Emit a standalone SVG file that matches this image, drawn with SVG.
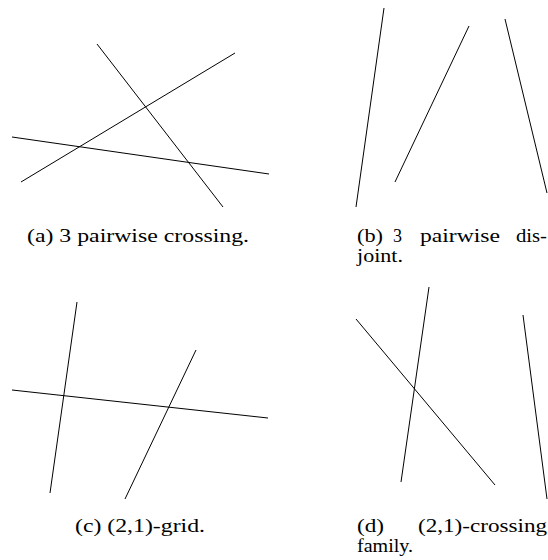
<svg xmlns="http://www.w3.org/2000/svg" width="548" height="560" viewBox="0 0 548 560">
<style>
line{stroke:#000;stroke-width:1;fill:none}
</style>
<rect width="548" height="560" fill="#fff"/>
<g font-family="Liberation Serif, Times New Roman, serif" font-size="18" fill="#000">
<g id="panel-a">
<line x1="97" y1="44" x2="223" y2="207"/>
<line x1="21" y1="182" x2="235" y2="53"/>
<line x1="12" y1="137" x2="269" y2="174"/>
<text x="27" y="242" textLength="222" lengthAdjust="spacingAndGlyphs">(a) 3 pairwise crossing.</text>
</g>
<g id="panel-b">
<line x1="384" y1="8" x2="356" y2="207"/>
<line x1="469" y1="26" x2="395" y2="182"/>
<line x1="505" y1="19" x2="547" y2="193"/>
<text x="357" y="242" textLength="26" lengthAdjust="spacingAndGlyphs">(b)</text>
<text x="393" y="242">3</text>
<text x="420" y="242" textLength="80" lengthAdjust="spacingAndGlyphs">pairwise</text>
<text x="516" y="242" textLength="31" lengthAdjust="spacingAndGlyphs">dis-</text>
<text x="357" y="262" textLength="46" lengthAdjust="spacingAndGlyphs">joint.</text>
</g>
<g id="panel-c">
<line x1="77" y1="302" x2="50" y2="493"/>
<line x1="196" y1="350" x2="125" y2="499"/>
<line x1="12" y1="390" x2="268" y2="418"/>
<text x="75" y="532" textLength="130" lengthAdjust="spacingAndGlyphs">(c) (2,1)-grid.</text>
</g>
<g id="panel-d">
<line x1="429" y1="287" x2="401" y2="482"/>
<line x1="356" y1="319" x2="495" y2="485"/>
<line x1="523" y1="315" x2="547" y2="499"/>
<text x="357" y="532" textLength="27" lengthAdjust="spacingAndGlyphs">(d)</text>
<text x="418" y="532" textLength="129" lengthAdjust="spacingAndGlyphs">(2,1)-crossing</text>
<text x="357" y="552" textLength="56" lengthAdjust="spacingAndGlyphs">family.</text>
</g>
</g>
</svg>
